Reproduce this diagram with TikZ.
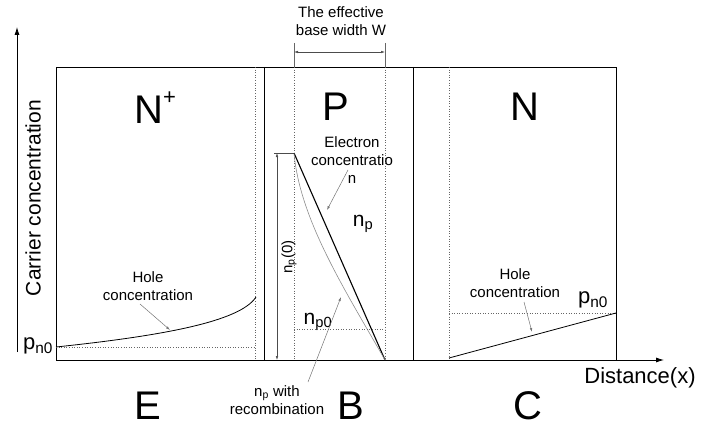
\documentclass[tikz,border=0pt]{standalone}
\usepackage{fontspec}
\setmainfont{Liberation Sans}
\usetikzlibrary{arrows.meta}
\begin{document}
\begin{tikzpicture}[x=1pt,y=-1pt,
  lbl/.style={font=\fontsize{15}{18}\selectfont, align=center, inner sep=0},
  big/.style={font=\fontsize{40}{40}\selectfont, inner sep=0},
  mid/.style={font=\fontsize{21}{24}\selectfont, inner sep=0},
  dotline/.style={dotted, black!60, line width=0.6pt},
  frame/.style={black, line width=0.8pt},
  pointer/.style={black!55, line width=0.5pt, -{Latex[length=4pt,width=2.5pt]}},
  dim/.style={black!70, line width=0.5pt, {Latex[length=4pt,width=2.5pt]}-{Latex[length=4pt,width=2.5pt]}},
]
\useasboundingbox (0,0) rectangle (702,428);
% coordinates
\coordinate (bl) at (56,360);
\coordinate (tl) at (56,67);
\coordinate (tr) at (616,67);
\coordinate (br) at (616,360);
\coordinate (xend) at (664,360);
\coordinate (yb) at (17,352);
\coordinate (yt) at (17,27);
% axes
\draw[frame, -{Latex[length=8pt,width=5pt]}] (yb) -- (yt);
\draw[frame, -{Latex[length=8pt,width=5pt]}] (bl) -- (xend);
\draw[frame] (bl) -- (tl) -- (tr) -- (br);
% region boundaries
\coordinate (s1t) at (264,67); \coordinate (s1b) at (264,360);
\coordinate (s2t) at (413,67); \coordinate (s2b) at (413,360);
\draw[frame] (s1t) -- (s1b);
\draw[frame] (s2t) -- (s2b);
% dotted lines
\coordinate (d1t) at (255,67); \coordinate (d1b) at (255,360);
\coordinate (d2t) at (294,67); \coordinate (d2b) at (294,360);
\coordinate (d3t) at (385,67); \coordinate (d3b) at (385,360);
\coordinate (d4t) at (449,67); \coordinate (d4b) at (449,360);
\draw[dotline] (d1t) -- (d1b);
\draw[dotline] (d2t) -- (d2b);
\draw[dotline] (d3t) -- (d3b);
\draw[dotline] (d4t) -- (d4b);
% effective base width
\coordinate (e1) at (294,43); \coordinate (e2) at (385,43);
\draw[black!60, line width=0.5pt] (e1) -- (d2t);
\draw[black!60, line width=0.5pt] (e2) -- (d3t);
\coordinate (w1) at (294,52); \coordinate (w2) at (385,52);
\draw[dim] (w1) -- (w2);
\node[lbl] (wtxt) at (341,21) {The effective\\base width W};
% region letters
\node[big, anchor=base west] (Nplus) at (134,123) {N\raisebox{0.47em}{\fontsize{22}{22}\selectfont +}};
\node[big] (Preg) at (336,107) {P};
\node[big] (Nreg) at (525,107) {N};
\node[big] (E) at (148,406) {E};
\node[big] (B) at (351,406) {B};
\node[big] (C) at (528,406) {C};
% axis labels
\node[mid, rotate=90] (ylab) at (33,198) {Carrier concentration};
\node[mid, font=\fontsize{22}{24}\selectfont] (xlab) at (640,378) {Distance(x)};
% emitter hole concentration
\coordinate (h0) at (56,347);
\coordinate (h1) at (256,297);
\coordinate (h0d) at (255,347);
\draw[dotline] (h0) -- (h0d);
\draw[black, line width=0.8pt] (h0) .. controls (160,336) and (240,322) .. (h1);
\node[mid, font=\fontsize{22}{24}\selectfont] (pn0l) at (38,346) {p\textsubscript{n0}};
\node[lbl] (holeE) at (148,286) {Hole\\concentration};
\coordinate (hEa) at (170,330);
\draw[pointer] (140,304) -- (hEa);
% base
\coordinate (n0) at (294,153);
\coordinate (nend) at (385,360);
\coordinate (tick) at (274,153);
\draw[black!70, line width=0.5pt] (tick) -- (n0);
\coordinate (a1) at (277,153); \coordinate (a2) at (277,360);
\draw[dim] (a1) -- (a2);
\node[lbl, rotate=90] (np0lab) at (289,257) {n\textsubscript{p}(0)};
\draw[black, line width=1.1pt] (n0) -- (nend);
\draw[black!45, line width=0.6pt] (n0) .. controls (300,220) and (345,290) .. (nend);
\node[lbl] (elec) at (352,160) {Electron\\concentratio\\n};
\coordinate (elA) at (327,210);
\draw[pointer] (348,170) -- (elA);
\node[mid] (nplab) at (363,224) {n\textsubscript{p}};
\node[mid] (npzero) at (318,322) {n\textsubscript{p0}};
\coordinate (np0a) at (294,329); \coordinate (np0b) at (385,329);
\draw[dotline] (np0a) -- (np0b);
\node[lbl] (recomb) at (277,400) {n\textsubscript{p} with\\recombination};
\coordinate (rcA) at (341,297);
\draw[pointer] (308,382) -- (rcA);
% collector
\coordinate (c0) at (449,358);
\coordinate (c1) at (616,313);
\draw[dotline] (449,313) -- (c1);
\draw[black, line width=0.8pt] (c0) -- (c1);
\node[mid, font=\fontsize{22}{24}\selectfont] (pn0r) at (593,300) {p\textsubscript{n0}};
\node[lbl] (holeC) at (515,283) {Hole\\concentration};
\coordinate (hCa) at (532,332);
\draw[pointer] (524,302) -- (hCa);
\end{tikzpicture}
\end{document}
